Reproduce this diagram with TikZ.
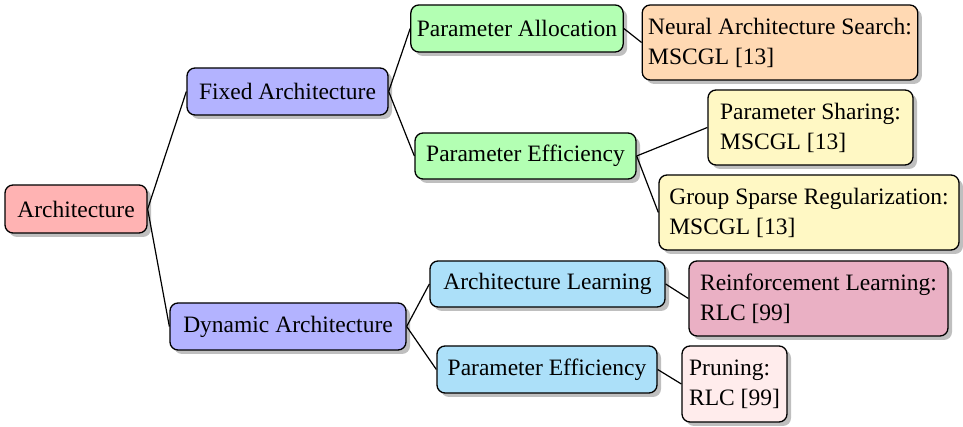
\documentclass[tikz,border=0pt]{standalone}
\usepackage{fontspec}
\setmainfont{Liberation Serif}
\usetikzlibrary{shadows}
\definecolor{cArch}{RGB}{255,179,179}
\definecolor{cLvl}{RGB}{179,179,255}
\definecolor{cGreen}{RGB}{179,255,179}
\definecolor{cOrange}{RGB}{255,217,179}
\definecolor{cYellow}{RGB}{255,248,196}
\definecolor{cCyan}{RGB}{172,224,249}
\definecolor{cRose}{RGB}{234,176,196}
\definecolor{cPale}{RGB}{255,236,236}
\begin{document}
\begin{tikzpicture}[x=1pt,y=1pt,
  box/.style={draw=black, line width=1.3pt, rounded corners=8pt, align=left,
    inner xsep=6pt, inner ysep=2pt,
    font=\fontsize{23.5}{30}\selectfont,
    drop shadow={shadow xshift=4pt, shadow yshift=-4pt, fill=black!25, opacity=1}},
  link/.style={draw=black, line width=1.2pt}]
\useasboundingbox (0,0) rectangle (963,427);
\node[box, fill=cArch, minimum width=142pt, minimum height=48pt] (arch) at (76,218) {Architecture};
\node[box, fill=cLvl, minimum width=201pt, minimum height=47pt] (fixed) at (287.5,335.5) {Fixed Architecture};
\node[box, fill=cGreen, minimum width=210pt, minimum height=47pt] (alloc) at (517,398.5) {Parameter Allocation};
\node[box, fill=cOrange, minimum width=270pt, minimum height=75pt] (nas) at (780,384.5) {Neural Architecture Search:\\MSCGL [13]};
\node[box, fill=cGreen, minimum width=221pt, minimum height=46pt] (effg) at (525.5,271) {Parameter Efficiency};
\node[box, fill=cYellow, minimum width=205pt, minimum height=75pt] (share) at (810.5,299.5) {Parameter Sharing:\\MSCGL [13]};
\node[box, fill=cYellow, minimum width=300pt, minimum height=75pt] (gsr) at (809,214.5) {Group Sparse Regularization:\\MSCGL [13]};
\node[box, fill=cLvl, minimum width=236pt, minimum height=47pt] (dyn) at (288,100.5) {Dynamic Architecture};
\node[box, fill=cCyan, minimum width=235pt, minimum height=46pt] (archl) at (547.5,143) {Architecture Learning};
\node[box, fill=cCyan, minimum width=220pt, minimum height=47pt] (effb) at (547,57.5) {Parameter Efficiency};
\node[box, fill=cRose, minimum width=259pt, minimum height=75pt] (rl) at (818.5,128.5) {Reinforcement Learning:\\RLC [99]};
\node[box, fill=cPale, minimum width=105pt, minimum height=76pt] (prune) at (734.5,43) {Pruning:\\RLC [99]};
\draw[link] (arch.east) -- (fixed.west);
\draw[link] (arch.east) -- (dyn.west);
\draw[link] (fixed.east) -- (alloc.west);
\draw[link] (fixed.east) -- (effg.west);
\draw[link] (alloc.east) -- (nas.west);
\draw[link] (effg.east) -- (share.west);
\draw[link] (effg.east) -- (gsr.west);
\draw[link] (dyn.east) -- (archl.west);
\draw[link] (dyn.east) -- (effb.west);
\draw[link] (archl.east) -- (rl.west);
\draw[link] (effb.east) -- (prune.west);
\end{tikzpicture}
\end{document}
